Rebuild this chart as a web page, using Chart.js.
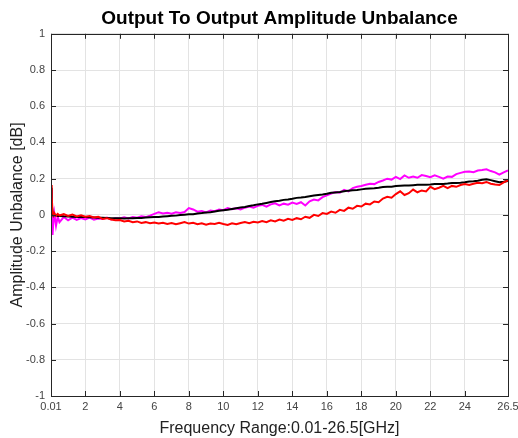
<!DOCTYPE html>
<html>
<head>
<meta charset="utf-8">
<script src="https://cdn.jsdelivr.net/npm/chart.js@4/dist/chart.umd.min.js"></script>
<style>
html,body{margin:0;padding:0;background:#fff;}
#wrap{width:518px;height:438px;}
</style>
</head>
<body>
<div id="wrap"><canvas id="c" width="518" height="438"></canvas></div>
<script>
const freq = [0.01,0.05,0.1,0.15,0.2,0.3,0.4,
0.5,0.75,1.0,1.25,1.5,1.75,2.0,2.25,2.5,2.75,3.0,3.25,3.5,3.75,4.0,4.25,4.5,4.75,
5.0,5.25,5.5,5.75,6.0,6.25,6.5,6.75,7.0,7.25,7.5,7.75,8.0,8.25,8.5,8.75,
9.0,9.25,9.5,9.75,10.0,10.25,10.5,10.75,11.0,11.25,11.5,11.75,12.0,12.25,12.5,12.75,
13.0,13.25,13.5,13.75,14.0,14.25,14.5,14.75,15.0,15.25,15.5,15.75,16.0,16.25,16.5,16.75,
17.0,17.25,17.5,17.75,18.0,18.25,18.5,18.75,19.0,19.25,19.5,19.75,20.0,20.25,20.5,20.75,
21.0,21.25,21.5,21.75,22.0,22.25,22.5,22.75,23.0,23.25,23.5,23.75,24.0,24.25,24.5,24.75,
25.0,25.25,25.5,25.75,26.0,26.25,26.5];

const blackSeries = [0.15,0.07,0.01,-0.005,0.0,-0.004,-0.006,
-0.006,-0.008,-0.009,-0.01,-0.011,-0.01,-0.012,-0.013,-0.014,-0.016,-0.016,-0.017,-0.018,-0.019,-0.019,-0.02,-0.018,-0.018,
-0.017,-0.017,-0.015,-0.013,-0.012,-0.011,-0.009,-0.007,-0.005,-0.004,-0.001,0.001,0.003,0.004,0.008,0.01,
0.013,0.015,0.019,0.023,0.026,0.029,0.033,0.037,0.041,0.044,0.049,0.053,0.058,0.061,0.066,0.071,
0.075,0.078,0.083,0.085,0.089,0.094,0.096,0.099,0.103,0.107,0.11,0.113,0.117,0.122,0.124,0.126,
0.13,0.134,0.136,0.137,0.141,0.144,0.146,0.147,0.15,0.154,0.155,0.156,0.159,0.161,0.162,0.162,
0.164,0.166,0.166,0.167,0.168,0.17,0.171,0.171,0.173,0.176,0.176,0.177,0.18,0.184,0.186,0.189,
0.194,0.197,0.192,0.186,0.18,0.183,0.188];

const magentaSeries = [0.14,-0.06,-0.11,-0.03,0.01,-0.06,-0.01,
-0.04,-0.012,-0.03,-0.015,-0.028,-0.018,-0.025,-0.015,-0.027,-0.02,-0.022,-0.015,-0.025,-0.018,-0.02,-0.013,-0.02,-0.012,
-0.016,-0.008,-0.012,-0.004,0.006,0.015,0.008,0.012,0.006,0.014,0.01,0.016,0.038,0.03,0.018,0.022,
0.014,0.024,0.02,0.03,0.026,0.038,0.032,0.036,0.03,0.04,0.046,0.04,0.05,0.055,0.046,0.058,
0.064,0.052,0.062,0.056,0.068,0.06,0.07,0.052,0.075,0.085,0.08,0.098,0.108,0.118,0.126,0.122,
0.138,0.13,0.148,0.155,0.16,0.166,0.172,0.17,0.182,0.19,0.2,0.195,0.21,0.198,0.218,0.205,
0.212,0.205,0.22,0.215,0.208,0.218,0.21,0.2,0.212,0.21,0.225,0.232,0.238,0.24,0.236,0.245,
0.248,0.252,0.242,0.235,0.222,0.235,0.245];

const redSeries = [0.165,0.1,0.02,0.0,0.01,-0.005,0.005,
-0.003,0.004,-0.006,0.002,-0.008,-0.002,-0.01,-0.006,-0.014,-0.01,-0.022,-0.018,-0.026,-0.03,-0.028,-0.036,-0.032,-0.04,
-0.036,-0.044,-0.04,-0.046,-0.042,-0.048,-0.043,-0.05,-0.045,-0.052,-0.046,-0.04,-0.048,-0.044,-0.052,-0.046,
-0.054,-0.048,-0.05,-0.043,-0.05,-0.055,-0.046,-0.052,-0.045,-0.04,-0.046,-0.038,-0.042,-0.034,-0.04,-0.03,
-0.036,-0.026,-0.032,-0.022,-0.028,-0.018,-0.024,-0.01,-0.016,0.0,-0.006,0.01,0.005,0.018,0.012,0.028,
0.022,0.04,0.034,0.05,0.046,0.062,0.058,0.074,0.07,0.09,0.1,0.095,0.115,0.13,0.11,0.12,
0.14,0.125,0.135,0.13,0.155,0.142,0.15,0.16,0.148,0.16,0.155,0.165,0.17,0.165,0.172,0.178,
0.175,0.182,0.172,0.168,0.165,0.18,0.19];

const xTickValues = [0.01,2,4,6,8,10,12,14,16,18,20,22,24,26.5];
const yTickValues = [-1,-0.8,-0.6,-0.4,-0.2,0,0.2,0.4,0.6,0.8,1];

const titleText = 'Output To Output Amplitude Unbalance';
const xTitle = 'Frequency Range:0.01-26.5[GHz]';
const yTitle = 'Amplitude Unbalance [dB]';

function pts(arr){ return freq.map((f,i)=>({x:f,y:arr[i]})); }

const axisColor = '#262626';
const boxPlugin = {
  id:'box',
  afterDatasetsDraw(chart){
    const {ctx, chartArea:a, scales:{x,y}} = chart;
    ctx.save();
    ctx.strokeStyle = axisColor;
    ctx.lineWidth = 1;
    ctx.beginPath();
    const L=5;
    xTickValues.forEach(v=>{
      const px = Math.round(x.getPixelForValue(v))+0.5;
      ctx.moveTo(px,a.bottom); ctx.lineTo(px,a.bottom-L);
      ctx.moveTo(px,a.top); ctx.lineTo(px,a.top+L);
    });
    yTickValues.forEach(v=>{
      const py = Math.round(y.getPixelForValue(v))+0.5;
      ctx.moveTo(a.left,py); ctx.lineTo(a.left+L,py);
      ctx.moveTo(a.right,py); ctx.lineTo(a.right-L,py);
    });
    ctx.stroke();
    ctx.strokeRect(Math.round(a.left)+0.5, Math.round(a.top)+0.5, Math.round(a.right-a.left), Math.round(a.bottom-a.top));
    ctx.restore();
  }
};

const font = "'Liberation Sans', Arial, sans-serif";
new Chart(document.getElementById('c'), {
  type:'line',
  data:{
    datasets:[
      {label:'magenta', data:pts(magentaSeries), borderColor:'#ff00ff', borderWidth:2, pointRadius:0, tension:0, order:3},
      {label:'black', data:pts(blackSeries), borderColor:'#000000', borderWidth:2, pointRadius:0, tension:0, order:2},
      {label:'red', data:pts(redSeries), borderColor:'#ff0000', borderWidth:2, pointRadius:0, tension:0, order:1}
    ]
  },
  options:{
    responsive:false,
    animation:false,
    devicePixelRatio:1,
    layout:{padding:{left:0,right:10,top:0,bottom:0}},
    plugins:{
      legend:{display:false},
      tooltip:{enabled:false},
      title:{display:true, fullSize:false, text:titleText, color:'#000', font:{family:font, size:19, weight:'bold'}, padding:{top:7,bottom:4}}
    },
    scales:{
      x:{
        type:'linear', min:0.01, max:26.5,
        afterBuildTicks(s){ s.ticks = xTickValues.map(v=>({value:v})); },
        afterFit(s){ s.height = 42; s.paddingLeft = 0; s.paddingRight = 0; },
        ticks:{autoSkip:false, maxRotation:0, color:'#444', font:{family:font,size:11}, padding:4,
          callback:(v)=>String(v)},
        grid:{color:'#e3e3e3', drawTicks:false, lineWidth:1},
        border:{display:false},
        title:{display:true, text:xTitle, color:'#222', font:{family:font,size:16}, padding:{top:0,bottom:0}}
      },
      y:{
        type:'linear', min:-1, max:1,
        afterBuildTicks(s){ s.ticks = yTickValues.map(v=>({value:v})); },
        afterFit(s){ s.width = 51; },
        ticks:{color:'#444', font:{family:font,size:11}, padding:6,
          callback:(v)=>String(Math.round(v*10)/10)},
        grid:{color:'#e3e3e3', drawTicks:false, lineWidth:1},
        border:{display:false},
        title:{display:true, text:yTitle, color:'#222', font:{family:font,size:16}, padding:{top:8,bottom:0}}
      }
    }
  },
  plugins:[boxPlugin]
});
</script>
</body>
</html>
